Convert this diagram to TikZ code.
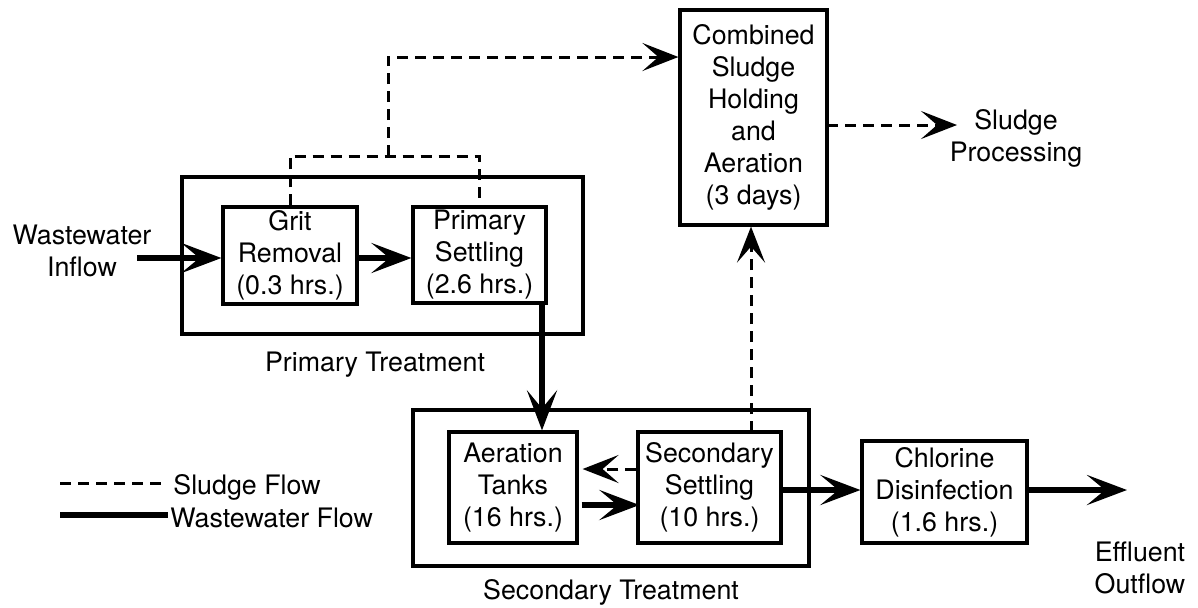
\documentclass[tikz,border=0pt]{standalone}
\usepackage{fontspec}
\setmainfont{TeX Gyre Heros}
\usetikzlibrary{arrows.meta,calc}
\begin{document}
\begin{tikzpicture}[x=0.5pt,y=-0.5pt,
  every node/.style={font=\fontsize{13.4pt}{16pt}\selectfont, align=center, inner sep=0pt},
  box/.style={draw, line width=1.6pt, rectangle},
  sl/.style={line width=1.5pt, dash pattern=on 5.5pt off 3.5pt, -{Stealth[length=18pt,width=14pt,inset=8pt]}},
  slp/.style={line width=1.5pt, dash pattern=on 5.5pt off 3.5pt},
  ww/.style={line width=3.3pt, -{Stealth[length=20pt,width=15pt,inset=9pt]}},
  wwp/.style={line width=3.3pt}]
\useasboundingbox (0,0) rectangle (1198,607);
% outer group boxes
\node[box, minimum width=200.5pt, minimum height=78.5pt] (prim) at (382.5,255.5) {};
\node[box, minimum width=198pt, minimum height=78pt] (sec) at (611,488) {};
% process boxes
\node[box, minimum width=67pt, minimum height=48.5pt] (grit) at (290,255.5) {Grit\\Removal\\(0.3 hrs.)};
\node[box, minimum width=66.5pt, minimum height=48pt] (ps) at (479.5,255) {Primary\\Settling\\(2.6 hrs.)};
\node[box, minimum width=73.5pt, minimum height=107.5pt] (comb) at (753.5,117.5) {Combined\\Sludge\\Holding\\and\\Aeration\\(3 days)};
\node[box, minimum width=64pt, minimum height=55.5pt] (aer) at (513,487.5) {Aeration\\Tanks\\(16 hrs.)};
\node[box, minimum width=71.5pt, minimum height=55.5pt] (ss) at (709.5,487.5) {Secondary\\Settling\\(10 hrs.)};
\node[box, minimum width=82.5pt, minimum height=51pt] (cl) at (944.5,492) {Chlorine\\Disinfection\\(1.6 hrs.)};
% text labels
\node (win) at (82,251) {Wastewater\\Inflow};
\node (sp) at (1016,138) {Sludge\\Processing};
\node (eff) at (1140,568) {Effluent\\Outflow};
\node (plab) at (375,365) {Primary Treatment};
\node (slab) at (611,592) {Secondary Treatment};
% coordinates
\coordinate (inS) at (137,258);
\coordinate (j1) at (388,156);
\coordinate (j2) at (388,57);
\coordinate (spS) at (827,125);
\coordinate (spE) at (957,125);
\coordinate (effS) at (1027,490);
\coordinate (effE) at (1127,490);
\coordinate (psd) at (542,303);
\coordinate (ssu) at (751,432);
% wastewater flow
\draw[ww] (inS) -- (inS -| grit.west);
\draw[ww] (grit.east |- inS) -- (ps.west |- inS);
\draw[ww] (psd) -- (psd |- aer.north);
\draw[ww] ($(aer.east)+(3,17.5)$) -- ($(ss.west)+(3,17.5)$);
\draw[ww] (ss.east |- effS) -- (cl.west |- effS);
\draw[ww] (effS) -- (effE);
% sludge flow
\draw[slp] (grit.north) |- (j1) -| (ps.north);
\draw[sl] (j1) -- (j2) -- (j2 -| comb.west);
\draw[sl] (spS) -- (spE);
\draw[sl] (ssu) -- (ssu |- comb.south);
\draw[sl] ($(ss.west)+(0,-18.5)$) -- ($(aer.east)+(4,-18.5)$);
% legend
\coordinate (l1a) at (60,483);
\coordinate (l1b) at (163,483);
\coordinate (l2a) at (60,515);
\coordinate (l2b) at (168,515);
\draw[slp] (l1a) -- (l1b);
\draw[wwp] (l2a) -- (l2b);
\node[anchor=west] (lt1) at (173,487) {Sludge Flow};
\node[anchor=west] (lt2) at (170,518) {Wastewater Flow};
\end{tikzpicture}
\end{document}
